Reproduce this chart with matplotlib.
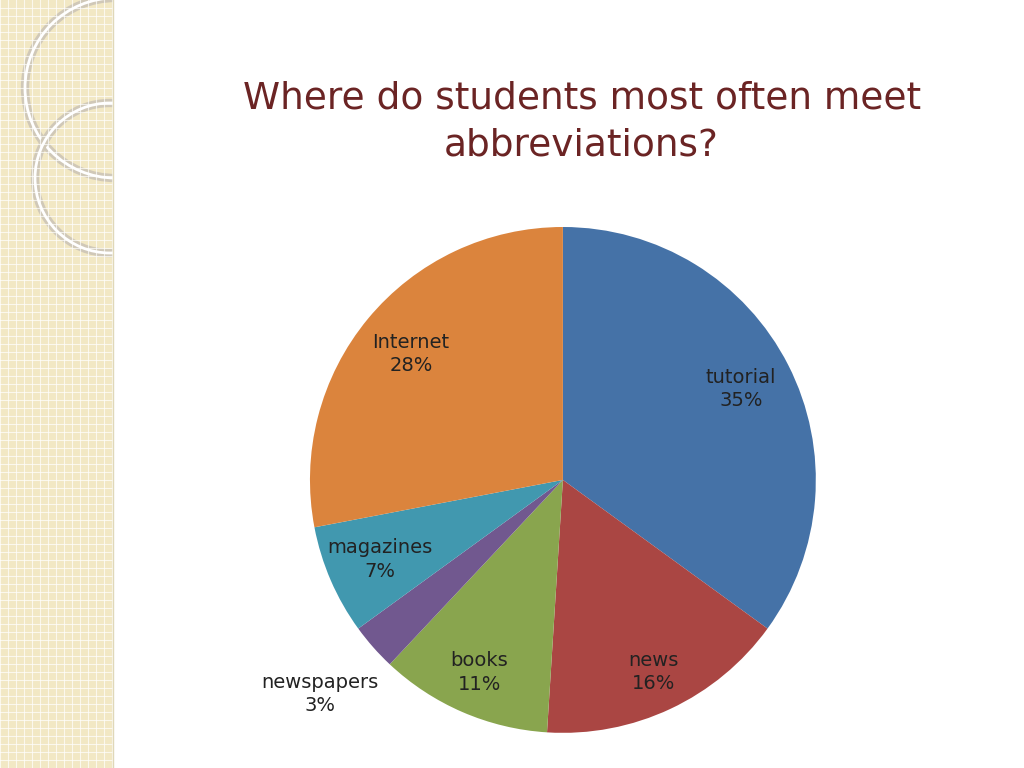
import matplotlib
matplotlib.use("Agg")
import matplotlib.pyplot as plt
import numpy as np
from matplotlib.patches import Circle, Rectangle

categories = ["tutorial", "news", "books", "newspapers", "magazines", "Internet"]
values = [35, 16, 11, 3, 7, 28]
display = ["35%", "16%", "11%", "3%", "7%", "28%"]
colors = ["#4572A7", "#AA4643", "#89A54E", "#71588F", "#4198AF", "#DB843D"]

fig = plt.figure(figsize=(10.24, 7.68), dpi=100)
fig.patch.set_facecolor("white")

# decorative left strip
sa = fig.add_axes([0, 0, 113/1024, 1])
sa.set_xlim(0, 113); sa.set_ylim(0, 768)
sa.add_patch(Rectangle((0, 0), 113, 768, color="#F2E8C4", zorder=0))
for x in np.arange(0, 113, 8):
    sa.axvline(x, color="white", lw=0.8, alpha=0.7)
for y in np.arange(0, 768, 8):
    sa.axhline(y, color="white", lw=0.8, alpha=0.7)
for (cx, cy, r) in [(115, 680, 90), (110, 590, 75)]:
    sa.add_patch(Circle((cx, cy), r, fill=False, ec="#D0C8B8", lw=6, clip_on=True))
    sa.add_patch(Circle((cx, cy), r, fill=False, ec="white", lw=2, clip_on=True))
sa.axis("off")
fig.add_artist(plt.Line2D([113/1024]*2, [0, 1], color="#E0D8B8", lw=1))

fig.text(0.568, 0.841, "Where do students most often meet\nabbreviations?", ha="center",
         va="center", fontsize=27, color="#6B2424", family="DejaVu Sans",
         linespacing=1.4)

ax = fig.add_axes([0.3027, 0.0456, 0.494, 0.659])
wedges, _ = ax.pie(values, colors=colors, startangle=90, counterclock=False, radius=1,
                   wedgeprops=dict(linewidth=0))
dist = [0.79, 0.84, 0.83, 1.28, 0.79, 0.78]
for w, c, t, dd in zip(wedges, categories, display, dist):
    ang = np.deg2rad((w.theta1 + w.theta2) / 2)
    ax.text(dd*np.cos(ang), dd*np.sin(ang), f"{c}\n{t}", ha="center", va="center",
            fontsize=14, color="#222222", family="DejaVu Sans", linespacing=1.3)
ax.set_xlim(-1, 1); ax.set_ylim(-1, 1)
ax.set_aspect("equal")
ax.axis("off")

fig.savefig("out.png", dpi=100)
